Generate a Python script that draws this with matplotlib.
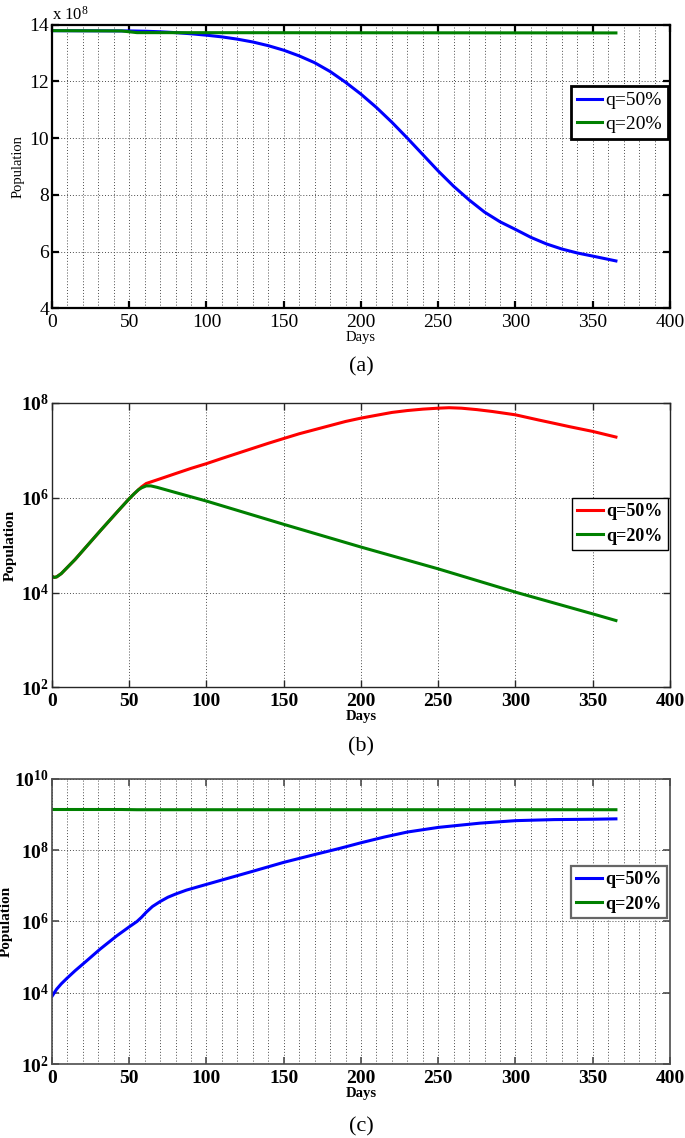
import matplotlib
matplotlib.use("Agg")
import matplotlib.pyplot as plt
from matplotlib.ticker import MultipleLocator, NullLocator, FixedLocator

plt.rcParams['font.family'] = ['Liberation Serif', 'DejaVu Serif']
plt.rcParams['mathtext.fontset'] = 'custom'
plt.rcParams['mathtext.rm'] = 'Liberation Serif'
plt.rcParams['mathtext.bf'] = 'Liberation Serif:bold'
plt.rcParams['mathtext.it'] = 'Liberation Serif:italic'
plt.rcParams['lines.solid_joinstyle'] = 'round'

BLUE = (0, 0, 1)
GREEN = (0, 0.5, 0)
RED = (1, 0, 0)

# ---- panel (a): population, units of 1e8 ----
days_a_50 = [0, 50, 60, 70, 80, 90, 100, 110, 120, 130, 140, 150, 160, 170, 180, 190,
             200, 210, 220, 230, 240, 250, 260, 270, 280, 290, 300, 310, 320, 330, 340,
             350, 365]
pop_a_50 = [13.79, 13.78, 13.77, 13.75, 13.72, 13.68, 13.63, 13.57, 13.49, 13.39, 13.26,
            13.10, 12.90, 12.66, 12.35, 11.97, 11.55, 11.08, 10.56, 10.00, 9.42, 8.84,
            8.30, 7.82, 7.39, 7.05, 6.78, 6.50, 6.27, 6.09, 5.95, 5.84, 5.67]
days_a_20 = [0, 45, 55, 365]
pop_a_20 = [13.79, 13.78, 13.72, 13.71]

# ---- panel (b) ----
days_b_20 = [0, 1.5, 3, 6, 9, 15, 22, 32, 43, 50, 53, 56, 58, 61, 64, 68, 80, 100,
             150, 200, 250, 300, 350, 365]
pop_b_20 = [2.19e4, 2.09e4, 2.14e4, 2.51e4, 3.16e4, 5.01e4, 9.12e4, 2.14e5, 5.37e5,
            9.55e5, 1.20e6, 1.48e6, 1.62e6, 1.78e6, 1.78e6, 1.66e6, 1.29e6, 8.51e5,
            2.75e5, 9.12e4, 3.16e4, 1.02e4, 3.55e3, 2.57e3]
days_b_50 = [0, 1.5, 3, 6, 9, 15, 22, 32, 43, 50, 53, 56, 58, 61, 70, 80, 90, 100, 110,
             125, 140, 150, 160, 175, 190, 200, 210, 220, 230, 240, 250, 257, 265, 275,
             285, 300, 315, 325, 335, 350, 365]
pop_b_50 = [2.19e4, 2.09e4, 2.14e4, 2.51e4, 3.16e4, 5.01e4, 9.12e4, 2.14e5, 5.37e5,
            9.55e5, 1.20e6, 1.48e6, 1.70e6, 2.0e6, 2.51e6, 3.24e6, 4.17e6, 5.25e6,
            6.76e6, 9.77e6, 1.41e7, 1.78e7, 2.24e7, 3.02e7, 4.07e7, 4.79e7, 5.50e7,
            6.31e7, 6.92e7, 7.41e7, 7.76e7, 7.94e7, 7.76e7, 7.24e7, 6.61e7, 5.62e7,
            4.37e7, 3.72e7, 3.16e7, 2.51e7, 1.91e7]

# ---- panel (c) ----
days_c_50 = [0, 3, 6, 10, 15, 22, 31, 42, 50, 55, 58, 61, 65, 70, 75, 80, 87, 95, 100,
             117, 130, 150, 171, 186, 200, 215, 230, 250, 277, 300, 325, 350, 365]
pop_c_50 = [7.94e3, 1.26e4, 1.78e4, 2.63e4, 4.17e4, 7.59e4, 1.66e5, 3.98e5, 7.08e5,
            1.0e6, 1.32e6, 1.82e6, 2.63e6, 3.63e6, 4.79e6, 5.89e6, 7.59e6, 9.55e6,
            1.10e7, 1.78e7, 2.57e7, 4.57e7, 7.76e7, 1.12e8, 1.62e8, 2.34e8, 3.24e8,
            4.37e8, 5.75e8, 6.76e8, 7.24e8, 7.41e8, 7.59e8]
days_c_20 = [0, 45, 55, 365]
pop_c_20 = [1.39e9, 1.39e9, 1.37e9, 1.37e9]

x_ticks = [0, 50, 100, 150, 200, 250, 300, 350, 400]

fig = plt.figure(figsize=(6.85, 11.38), dpi=100)
axa = fig.add_axes([0.0759, 0.7291, 0.9022, 0.2492])
axb = fig.add_axes([0.0759, 0.3960, 0.9022, 0.2499])
axc = fig.add_axes([0.0759, 0.0650, 0.9022, 0.2505])

grid_kw = dict(color='0.3', linestyle=(0, (1, 2)), linewidth=0.7)


def frame(ax, lw, col):
    for s in ax.spines.values():
        s.set_linewidth(lw)
        s.set_edgecolor(col)
    ax.tick_params(which='major', direction='in', top=True, right=True,
                   length=5, width=lw, color=col, pad=4)
    ax.tick_params(which='minor', length=0)
    ax.set_xlim(0, 400)
    ax.xaxis.set_major_locator(FixedLocator(x_ticks))


# (a)
axa.plot(days_a_50, pop_a_50, color=BLUE, lw=2.2, label='q=50%')
axa.plot(days_a_20, pop_a_20, color=GREEN, lw=2.2, label='q=20%')
frame(axa, 1.6, 'black')
axa.set_ylim(4, 14)
axa.set_yticks([4, 6, 8, 10, 12, 14])
axa.xaxis.set_minor_locator(MultipleLocator(10))
axa.grid(which='minor', axis='x', **grid_kw)
axa.grid(which='major', axis='both', **grid_kw)
axa.set_xticklabels([str(v) for v in x_ticks], fontsize=14)
axa.set_yticklabels(['4', '6', '8', '10', '12', '14'], fontsize=14)
axa.tick_params(axis='y', pad=2)
axa.set_xlabel('Days', fontsize=10.5, labelpad=0)
axa.set_ylabel('Population', fontsize=10.5)
axa.yaxis.set_label_coords(-0.044, 0.5)
axa.text(0.0, 1.003, r'x 10$^{8}$', transform=axa.transAxes, fontsize=12,
         ha='left', va='bottom')
lg = axa.legend(loc='upper right', bbox_to_anchor=(0.997, 0.784), borderaxespad=0,
                fontsize=14, handlelength=1.3, handletextpad=0.2, borderpad=0.3,
                labelspacing=0.3, fancybox=False, framealpha=1, edgecolor='black')
lg.get_frame().set_linewidth(2)

# (b)
axb.plot(days_b_50, pop_b_50, color=RED, lw=2.2, label='q=50%')
axb.plot(days_b_20, pop_b_20, color=GREEN, lw=2.2, label='q=20%')
axb.set_yscale('log')
frame(axb, 1.0, '0.15')
axb.set_ylim(1e2, 1e8)
axb.yaxis.set_major_locator(FixedLocator([1e2, 1e4, 1e6, 1e8]))
axb.yaxis.set_minor_locator(NullLocator())
axb.grid(which='major', axis='both', **grid_kw)
axb.set_xticklabels([str(v) for v in x_ticks], fontsize=14, fontweight='bold')
axb.set_yticklabels([r'$\mathdefault{10^{%d}}$' % e for e in (2, 4, 6, 8)],
                    fontsize=14, fontweight='bold')
axb.tick_params(axis='y', pad=2)
axb.set_xlabel('Days', fontsize=10.5, fontweight='bold', labelpad=0)
axb.set_ylabel('Population', fontsize=11, fontweight='bold')
axb.yaxis.set_label_coords(-0.057, 0.5)
lg = axb.legend(loc='upper right', bbox_to_anchor=(0.997, 0.666), borderaxespad=0,
                prop=dict(size=13, weight='bold'), handlelength=1.4,
                handletextpad=0.2, borderpad=0.3, labelspacing=0.4, fancybox=False,
                framealpha=1, edgecolor='black')
lg.get_frame().set_linewidth(1.0)

# (c)
axc.plot(days_c_50, pop_c_50, color=BLUE, lw=2.2, label='q=50%')
axc.plot(days_c_20, pop_c_20, color=GREEN, lw=2.2, label='q=20%')
axc.set_yscale('log')
frame(axc, 1.2, '0.3')
axc.set_ylim(1e2, 1e10)
axc.yaxis.set_major_locator(FixedLocator([1e2, 1e4, 1e6, 1e8, 1e10]))
axc.yaxis.set_minor_locator(NullLocator())
axc.xaxis.set_minor_locator(MultipleLocator(10))
axc.grid(which='minor', axis='x', **grid_kw)
axc.grid(which='major', axis='both', **grid_kw)
axc.set_xticklabels([str(v) for v in x_ticks], fontsize=14, fontweight='bold')
axc.set_yticklabels([r'$\mathdefault{10^{%d}}$' % e for e in (2, 4, 6, 8, 10)],
                    fontsize=14, fontweight='bold')
axc.tick_params(axis='y', pad=2)
axc.set_xlabel('Days', fontsize=10.5, fontweight='bold', labelpad=0)
axc.set_ylabel('Population', fontsize=11, fontweight='bold')
axc.yaxis.set_label_coords(-0.063, 0.5)
lg = axc.legend(loc='upper right', bbox_to_anchor=(0.995, 0.695), borderaxespad=0,
                prop=dict(size=13, weight='bold'), handlelength=1.4,
                handletextpad=0.2, borderpad=0.3, labelspacing=0.4, fancybox=False,
                framealpha=1, edgecolor='0.4')
lg.get_frame().set_linewidth(1.6)

# panel letters
fig.text(361 / 685, 1 - 367 / 1138, '(a)', fontsize=16, ha='center', va='center')
fig.text(361 / 685, 1 - 747 / 1138, '(b)', fontsize=16, ha='center', va='center')
fig.text(361 / 685, 1 - 1127 / 1138, '(c)', fontsize=16, ha='center', va='center')

plt.savefig('out.png', dpi=100)
